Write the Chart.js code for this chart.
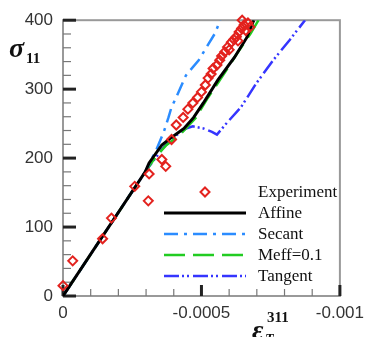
<!DOCTYPE html>
<html>
<head>
<meta charset="utf-8">
<script src="https://cdn.jsdelivr.net/npm/chart.js@4.4.1/dist/chart.umd.min.js"></script>
<style>
  html, body { margin: 0; padding: 0; background: #fff; }
  #wrap { width: 371px; height: 337px; }
</style>
</head>
<body>
<div id="wrap"><canvas id="chart" width="371" height="337"></canvas></div>
<script>
'use strict';

// Data (strain is negative, axis runs 0 -> -0.001)
let expStrain = [0, -0.000035, -0.000143, -0.000175, -0.000259, -0.000308, -0.000311, -0.000357, -0.000371,
  -0.000392, -0.000409, -0.000434, -0.000451, -0.000469, -0.000486, -0.0005, -0.000514, -0.000524, -0.000535,
  -0.000542, -0.000556, -0.000566, -0.000573, -0.000584, -0.000594, -0.0006, -0.000608, -0.000617, -0.000626,
  -0.000632, -0.000636, -0.000645, -0.000654, -0.000647, -0.00066, -0.000675, -0.000668];
let expStress = [15, 51, 83, 113, 159, 138, 177, 198, 188,
  227, 248, 259, 271, 280, 288, 296, 306, 316, 322,
  330, 335, 342, 348, 354, 361, 357, 368, 372, 376,
  370, 383, 388, 393, 400, 385, 390, 396];

let affineStrain = [0, -0.000297, -0.000311, -0.000357, -0.000392, -0.000437, -0.000472, -0.000507, -0.000559, -0.000619, -0.000664, -0.000689];
let affineStress = [0, 180, 193, 219, 230, 243, 259, 280, 313, 346, 375, 400];

let secantStrain = [0, -0.000297, -0.000339, -0.000364, -0.000381, -0.000392, -0.000409, -0.000444, -0.00049, -0.000549, -0.000568];
let secantStress = [0, 180, 214, 238, 259, 274, 288, 320, 342, 381, 400];

let meffStrain = [0, -0.000297, -0.000339, -0.000374, -0.00042, -0.000444, -0.000479, -0.000507, -0.000524, -0.000573, -0.000629, -0.000678, -0.000706];
let meffStress = [0, 180, 204, 219, 233, 243, 258, 277, 288, 317, 352, 381, 400];

let tangentStrain = [0, -0.000297, -0.000315, -0.000364, -0.000409, -0.000444, -0.000469, -0.000507, -0.000538, -0.000556, -0.000585, -0.000643, -0.000699, -0.000759, -0.000818, -0.000874];
let tangentStress = [0, 180, 190, 216, 233, 243, 246, 243, 238, 234, 248, 274, 309, 342, 371, 400];

let seriesNames = ['Experiment', 'Affine', 'Secant', 'Meff=0.1', 'Tangent'];
let xMajorTicks = [0, -0.0005, -0.001];
let yMajorTicks = [0, 100, 200, 300, 400];
let xMinorStep = 0.0001;
let yMinorStep = 20;

function toPoints(xs, ys) {
  let pts = [];
  for (let i = 0; i < xs.length; i++) {
    pts.push({ x: xs[i], y: ys[i] });
  }
  return pts;
}

function lineSet(label, xs, ys, color, width, dash) {
  return {
    label: label,
    data: toPoints(xs, ys),
    showLine: true,
    borderColor: color,
    backgroundColor: color,
    borderWidth: width,
    borderDash: dash,
    pointRadius: 0,
    tension: 0
  };
}

// frame + inward tick marks
const framePlugin = {
  id: 'frame',
  beforeDatasetsDraw(chart) {
    const c = chart.ctx;
    const a = chart.chartArea;
    const xs = chart.scales.x;
    const ys = chart.scales.y;
    c.save();
    c.strokeStyle = '#999';
    c.lineWidth = 2;
    c.strokeRect(a.left, a.top, a.right - a.left, a.bottom - a.top);

    let nX = Math.round(0.001 / xMinorStep);
    for (let i = 0; i <= nX; i++) {
      let px = xs.getPixelForValue(-i * xMinorStep);
      let major = i % 5 === 0;
      c.beginPath();
      c.strokeStyle = major ? '#222' : '#777';
      c.lineWidth = major ? 3 : 1.2;
      c.moveTo(px, a.bottom);
      c.lineTo(px, a.bottom - (major ? 11 : 7));
      c.stroke();
    }
    let nY = Math.round(400 / yMinorStep);
    for (let i = 0; i <= nY; i++) {
      let py = ys.getPixelForValue(i * yMinorStep);
      let major = i % 5 === 0;
      c.beginPath();
      c.strokeStyle = major ? '#222' : '#777';
      c.lineWidth = major ? 3 : 1.2;
      c.moveTo(a.left, py);
      c.lineTo(a.left + (major ? 13 : 8), py);
      c.stroke();
    }
    c.restore();
  }
};

// axis titles with sub/superscripts
const titlePlugin = {
  id: 'titles',
  afterDraw(chart) {
    const c = chart.ctx;
    c.save();
    c.fillStyle = '#111';
    c.textBaseline = 'alphabetic';
    c.textAlign = 'left';
    c.font = 'italic bold 28px "Liberation Serif"';
    c.fillText('σ', 9, 57);
    c.font = 'bold 15px "Liberation Serif"';
    c.fillText('11', 26, 63);

    c.font = 'italic bold 28px "Liberation Serif"';
    c.fillText('ε', 252, 339);
    c.font = 'bold 15px "Liberation Serif"';
    c.fillText('311', 267, 322);
    c.font = 'italic bold 14px "Liberation Serif"';
    c.fillText('T', 265, 344);
    c.restore();
  }
};

// legend inside the plot, bottom right
const legendPlugin = {
  id: 'boxLegend',
  afterDraw(chart) {
    const c = chart.ctx;
    const a = chart.chartArea;
    let x1 = a.left + 101;
    let x2 = a.left + 183;
    let tx = a.left + 195;
    let y0 = a.bottom - 104;
    c.save();
    c.font = '17px "Liberation Serif"';
    c.textBaseline = 'middle';
    chart.data.datasets.forEach(function (ds, i) {
      let y = y0 + i * 21;
      if (ds.showLine) {
        c.beginPath();
        c.strokeStyle = ds.borderColor;
        c.lineWidth = ds.borderWidth;
        c.setLineDash(ds.borderDash || []);
        c.moveTo(x1, y);
        c.lineTo(x2, y);
        c.stroke();
        c.setLineDash([]);
      } else {
        let cx = (x1 + x2) / 2;
        let r = ds.pointRadius;
        c.beginPath();
        c.strokeStyle = ds.pointBorderColor;
        c.lineWidth = ds.pointBorderWidth;
        c.moveTo(cx, y - r);
        c.lineTo(cx + r, y);
        c.lineTo(cx, y + r);
        c.lineTo(cx - r, y);
        c.closePath();
        c.stroke();
      }
      c.fillStyle = '#111';
      c.fillText(ds.label, tx, y + 1);
    });
    c.restore();
  }
};

const ctx = document.getElementById('chart').getContext('2d');

let chartObject = {
  type: 'scatter',
  data: {
    datasets: [
      {
        label: seriesNames[0],
        data: toPoints(expStrain, expStress),
        showLine: false,
        pointStyle: 'rectRot',
        pointRadius: 4.5,
        pointBorderWidth: 2,
        borderColor: '#e3221e',
        backgroundColor: 'rgba(0,0,0,0)',
        pointBackgroundColor: 'rgba(0,0,0,0)',
        pointBorderColor: '#e3221e',
        clip: false
      },
      lineSet(seriesNames[1], affineStrain, affineStress, '#000000', 3, []),
      lineSet(seriesNames[2], secantStrain, secantStress, '#2b8cff', 2.5, [14, 6, 3, 6]),
      lineSet(seriesNames[3], meffStrain, meffStress, '#22cc22', 2.5, [21, 8]),
      lineSet(seriesNames[4], tangentStrain, tangentStress, '#3535ff', 2.5, [15, 3, 2, 3, 2, 4])
    ]
  },
  options: {
    responsive: false,
    animation: false,
    devicePixelRatio: 1,
    layout: {
      autoPadding: false,
      padding: { left: 0, top: 20, right: 22, bottom: 0 }
    },
    plugins: {
      legend: { display: false },
      tooltip: { enabled: false }
    },
    scales: {
      x: {
        type: 'linear',
        reverse: true,
        min: -0.001,
        max: 0,
        afterBuildTicks: function (scale) {
          scale.ticks = xMajorTicks.map(function (v) { return { value: v }; });
        },
        afterFit: function (scale) { scale.height = 41; },
        grid: { display: false, drawTicks: false },
        border: { display: false },
        ticks: {
          padding: 7,
          maxRotation: 0,
          autoSkip: false,
          color: '#333',
          font: { family: '"Liberation Sans"', size: 17 },
          callback: function (v) { return String(Number(v.toPrecision(6))); }
        }
      },
      y: {
        type: 'linear',
        min: 0,
        max: 400,
        afterBuildTicks: function (scale) {
          scale.ticks = yMajorTicks.map(function (v) { return { value: v }; });
        },
        afterFit: function (scale) { scale.width = 63; },
        grid: { display: false, drawTicks: false },
        border: { display: false },
        ticks: {
          padding: 10,
          color: '#333',
          font: { family: '"Liberation Sans"', size: 17 }
        }
      }
    }
  },
  plugins: [framePlugin, legendPlugin, titlePlugin]
};

// eslint-disable-next-line no-unused-vars
const myChart = new Chart(ctx, chartObject);
</script>
</body>
</html>
